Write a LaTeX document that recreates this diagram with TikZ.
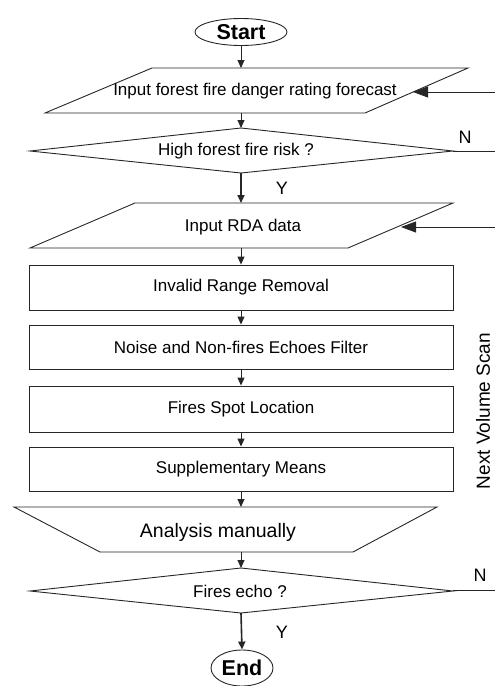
\documentclass[tikz,border=0pt]{standalone}
\usepackage{fontspec}
\setmainfont{Liberation Sans}
\usetikzlibrary{arrows.meta,shapes.geometric}
\begin{document}
\begin{tikzpicture}[x=1pt,y=-1pt,
  shp/.style={draw=black!85,line width=0.9pt,line join=miter},
  txt/.style={inner sep=0pt,font=\fontsize{17}{20}\selectfont},
  big/.style={inner sep=0pt,font=\fontsize{19.5}{22}\selectfont},
  term/.style={ellipse,draw=black!85,line width=0.9pt,inner sep=0pt,font=\bfseries\fontsize{21.5}{24}\selectfont},
  lbl/.style={inner sep=0pt,font=\fontsize{18}{20}\selectfont},
  arr/.style={draw=black!85,line width=0.9pt,-{Triangle[length=8pt,width=7pt]}},
  thk/.style={draw=black!85,line width=1.6pt,-{Triangle[length=8pt,width=7pt]}},
  bigarr/.style={draw=black!85,line width=0.9pt,-{Triangle[length=15pt,width=11pt]}},
  ln/.style={draw=black!85,line width=0.9pt}]
\useasboundingbox (0,0) rectangle (495,686);

% Start
\node[term,minimum width=92pt,minimum height=27pt] (start) at (241,32) {Start};

% Parallelogram 1
\draw[shp] (152,68) -- (468,68) -- (365,113) -- (45,113) -- cycle;
\coordinate (p1t) at (241,68);
\coordinate (p1b) at (241,113);
\coordinate (p1r) at (413,92);
\node[txt] (p1) at (255,91) {Input forest fire danger rating forecast};

% Decision 1
\draw[shp] (241,128) -- (453,151) -- (241,173) -- (30,151) -- cycle;
\coordinate (d1t) at (241,128);
\coordinate (d1b) at (241,173);
\coordinate (d1r) at (453,151);
\node[txt] (d1) at (236,151) {High forest fire risk ?};
\node[lbl] (n1) at (465,137) {N};
\node[lbl] (y1) at (282,188) {Y};

% Parallelogram 2
\draw[shp] (135,203) -- (453,203) -- (348,248) -- (30,248) -- cycle;
\coordinate (p2t) at (241,203);
\coordinate (p2b) at (241,248);
\coordinate (p2r) at (401,227);
\node[txt] (p2) at (243,227) {Input RDA data};

% Boxes
\node[shp,rectangle,minimum width=424pt,minimum height=45pt,inner sep=0pt,font=\fontsize{17}{20}\selectfont] (b1) at (241,287.5) {Invalid Range Removal};
\node[shp,rectangle,minimum width=424pt,minimum height=44pt,inner sep=0pt,font=\fontsize{17}{20}\selectfont] (b2) at (241,347) {Noise and Non-fires Echoes Filter};
\node[shp,rectangle,minimum width=424pt,minimum height=46pt,inner sep=0pt,font=\fontsize{17}{20}\selectfont] (b3) at (241,409) {Fires Spot Location};
\node[shp,rectangle,minimum width=424pt,minimum height=44pt,inner sep=0pt,font=\fontsize{17}{20}\selectfont] (b4) at (241,469) {Supplementary Means};

% Manual operation
\draw[shp] (14,507) -- (437,507) -- (353,552) -- (100,552) -- cycle;
\coordinate (mt) at (241,507);
\coordinate (mb) at (241,552);
\node[big] (m) at (218,532) {Analysis manually};

% Decision 2
\draw[shp] (241,568) -- (453,591) -- (241,613) -- (30,591) -- cycle;
\coordinate (d2t) at (241,568);
\coordinate (d2b) at (241,613);
\coordinate (d2r) at (453,590);
\node[txt] (d2) at (240,591) {Fires echo ?};
\node[lbl] (n2) at (480,575) {N};
\node[lbl] (y2) at (282,632) {Y};

% End
\node[term,minimum width=62pt,minimum height=36pt] (end) at (242,668) {End};

% Side label
\node[inner sep=0pt,rotate=90,font=\fontsize{19}{22}\selectfont] (nvs) at (483,411) {Next Volume Scan};

% Right-side free ends
\coordinate (e1) at (495,92);
\coordinate (e2) at (495,151);
\coordinate (e3) at (495,227);
\coordinate (e4) at (495,590);

% Connectors
\draw[arr] (start.south) -- (p1t);
\draw[arr] (p1b) -- (d1t);
\draw[thk] (d1b) -- (p2t);
\draw[arr] (p2b) -- (b1.north);
\draw[arr] (b1.south) -- (b2.north);
\draw[arr] (b2.south) -- (b3.north);
\draw[arr] (b3.south) -- (b4.north);
\draw[arr] (b4.south) -- (mt);
\draw[arr] (mb) -- (d2t);
\draw[thk] (d2b) -- (end.north);
\draw[bigarr] (e1) -- (p1r);
\draw[bigarr] (e3) -- (p2r);
\draw[ln] (d1r) -- (e2);
\draw[ln] (d2r) -- (e4);
\end{tikzpicture}
\end{document}
